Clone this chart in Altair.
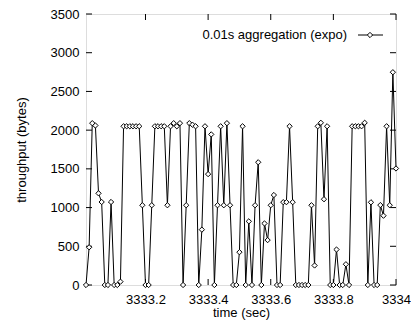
import altair as alt
import pandas as pd

# sample times (0.01 s bins) and throughput values
time = [round(3333.01 + 0.01 * i, 2) for i in range(100)]
throughput = [
    0, 487, 2090, 2060, 1184, 1072, 0, 0, 1072, 0,
    0, 43, 2050, 2050, 2050, 2050, 2050, 2050, 1030, 0,
    0, 1030, 2050, 2050, 2050, 2050, 1030, 2050, 2090, 2050,
    2090, 0, 1030, 2090, 2070, 2050, 0, 715, 2050, 1432,
    1945, 0, 1030, 2050, 1030, 2090, 1030, 0, 0, 424,
    2050, 0, 822, 0, 1030, 1585, 0, 795, 580, 1030,
    1162, 0, 0, 1070, 1070, 2050, 1070, 0, 0, 0,
    0, 0, 1030, 252, 2050, 2095, 1108, 2050, 0, 0,
    458, 0, 0, 268, 0, 2050, 2050, 2050, 2050, 2095,
    0, 1068, 0, 0, 1032, 895, 2050, 1030, 2748, 1505,
]
x_ticks = [3333.2, 3333.4, 3333.6, 3333.8, 3334]
y_ticks = [0, 500, 1000, 1500, 2000, 2500, 3000, 3500]
legend_label = ["0.01s aggregation (expo)"]

W, H = 310, 271
FONT = "Liberation Sans"

df = pd.DataFrame({"time": time, "throughput": throughput})
xt = pd.DataFrame({"time": x_ticks})
yt = pd.DataFrame({"throughput": y_ticks})
lg = pd.DataFrame({"label": legend_label})

xscale = alt.Scale(domain=[3333.01, 3334], nice=False, zero=False)
yscale = alt.Scale(domain=[0, 3500], nice=False)

xaxis = alt.Axis(values=x_ticks, format="~g", ticks=False, tickSize=0, domain=False,
                 grid=False, labelPadding=8, labelFontSize=13, labelFont=FONT,
                 labelColor="black", labelOverlap=False, labelFlush=False,
                 title="time (sec)", titleFont=FONT,
                 titleFontSize=13, titleFontWeight="normal", titleColor="black",
                 titleX=W / 2, titleY=27, titleBaseline="middle")
yaxis = alt.Axis(values=y_ticks, format="d", ticks=False, tickSize=0, domain=False,
                 grid=False, labelPadding=7, labelFontSize=13, labelFont=FONT,
                 labelColor="black", labelOverlap=False, labelFlush=False,
                 title="throughput (bytes)", titleFont=FONT,
                 titleFontSize=13, titleFontWeight="normal", titleColor="black",
                 titleX=-65, titleY=H / 2, titleBaseline="middle")

X = alt.X("time:Q", scale=xscale, axis=xaxis)
Y = alt.Y("throughput:Q", scale=yscale, axis=yaxis)

line = alt.Chart(df).mark_line(color="black", strokeWidth=1).encode(x=X, y=Y)
pts = alt.Chart(df).mark_point(shape="diamond", size=28, filled=True, fill="white",
                               stroke="black", strokeWidth=1, opacity=1).encode(x=X, y=Y)

tick_len = 6
xb = alt.Chart(xt).mark_rule(color="black", strokeWidth=1).encode(
    x=X, y=alt.value(H), y2=alt.value(H - tick_len))
xtop = alt.Chart(xt).mark_rule(color="black", strokeWidth=1).encode(
    x=X, y=alt.value(0), y2=alt.value(tick_len))
yl = alt.Chart(yt).mark_rule(color="black", strokeWidth=1).encode(
    y=Y, x=alt.value(0), x2=alt.value(tick_len))
yr = alt.Chart(yt).mark_rule(color="black", strokeWidth=1).encode(
    y=Y, x=alt.value(W - tick_len), x2=alt.value(W))

leg_text = alt.Chart(lg).mark_text(align="right", baseline="middle", font=FONT,
                                   fontSize=13, color="black").encode(
    text="label:N", x=alt.value(261), y=alt.value(21))
leg_line = alt.Chart(lg).mark_rule(color="black", strokeWidth=1).encode(
    x=alt.value(272), x2=alt.value(297), y=alt.value(21))
leg_pt = alt.Chart(lg).mark_point(shape="diamond", size=28, filled=True, fill="white",
                                  stroke="black", strokeWidth=1, opacity=1).encode(
    x=alt.value(284), y=alt.value(21))

chart = alt.layer(line, xb, xtop, yl, yr, pts, leg_line, leg_pt, leg_text).properties(
    width=W, height=H,
    autosize=alt.AutoSizeParams(type="none"),
    padding={"left": 78, "top": 6, "right": 15, "bottom": 40},
).configure_view(stroke="black", strokeWidth=1).configure(background="white")

chart.save("out.html", embed_options={"renderer": "svg", "actions": False})
